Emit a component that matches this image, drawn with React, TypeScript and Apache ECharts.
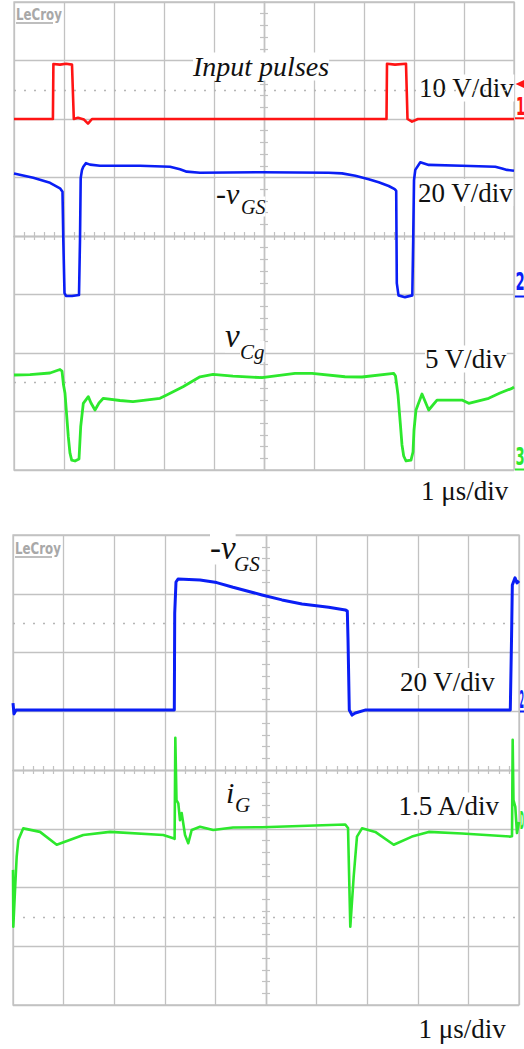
import React, { useEffect, useRef } from "react";
import * as echarts from "echarts";

// ---------- data: [time in µs relative to screen centre, value in channel units] ----------
// Upper screen
const inputPulses: [number, number][] = [
  [-5.0, 0], [-4.68, 0], [-4.222, 0], [-4.212, 9.4], [-4.2, 9.45], [-4.08, 9.3], [-3.96, 9.45],
  [-3.84, 9.3], [-3.826, 9.3], [-3.804, 0], [-3.72, 0.2], [-3.6, -0.1], [-3.52, -0.8], [-3.44, 0],
  [-2.88, 0], [-1.28, 0], [0.5, 0], [2.45, 0], [2.46, 9.45], [2.62, 9.3], [2.84, 9.45],
  [2.85, 9.4], [2.87, 0], [2.96, -0.45], [3.08, 0], [5.0, 0],
];
const gateVoltageTop: [number, number][] = [
  [-5.0, 41.4], [-4.614, 39.9], [-4.28, 38.2], [-4.08, 36.3], [-4.03, 35.1], [-4.014, 18.6],
  [-3.99, 0.5], [-3.96, -0.5], [-3.84, -0.5], [-3.7, -0.2], [-3.68, 18.6], [-3.666, 39.8],
  [-3.64, 42.6], [-3.614, 43.7], [-3.56, 44.9], [-3.48, 44.4], [-3.28, 44.0], [-2.48, 44.0],
  [-1.88, 43.7], [-1.68, 42.8], [-1.546, 42.0], [-1.28, 41.6], [-0.04, 41.8], [1.294, 41.6],
  [1.56, 41.4], [1.826, 40.6], [2.094, 39.4], [2.294, 38.4], [2.494, 37.1], [2.614, 36.0],
  [2.644, 35.4], [2.656, 3.9], [2.69, -0.3], [2.82, -0.9], [2.966, -0.3], [2.984, 18.6],
  [3.0, 39.1], [3.026, 42.6], [3.126, 45.2], [3.294, 44.3], [3.96, 44.0], [4.626, 43.7],
  [4.76, 43.1], [4.86, 42.6], [5.0, 42.3],
];
const capVoltage: [number, number][] = [
  [-5.0, 8.12], [-4.68, 8.16], [-4.28, 8.29], [-4.08, 8.59], [-4.04, 8.46], [-4.01, 7.26],
  [-3.98, 6.56], [-3.914, 2.85], [-3.88, 1.43], [-3.846, 0.85], [-3.78, 0.77], [-3.7, 0.94],
  [-3.666, 3.7], [-3.614, 5.7], [-3.514, 6.27], [-3.46, 5.73], [-3.38, 5.13], [-3.3, 5.73],
  [-3.214, 6.13], [-2.88, 5.94], [-2.62, 5.84], [-2.08, 6.13], [-1.946, 6.41], [-1.62, 7.12],
  [-1.28, 7.97], [-1.02, 8.18], [-0.62, 8.03], [-0.04, 7.89], [0.62, 8.26], [0.96, 8.26],
  [1.62, 7.97], [1.96, 7.95], [2.594, 8.26], [2.63, 8.03], [2.68, 6.41], [2.726, 3.99],
  [2.76, 2.14], [2.794, 1.2], [2.84, 0.77], [2.94, 0.85], [2.98, 1.54], [3.0, 3.42],
  [3.04, 5.13], [3.16, 6.5], [3.294, 5.13], [3.46, 5.98], [3.96, 5.98], [4.094, 5.7],
  [4.494, 6.13], [4.72, 6.58], [4.96, 6.98], [5.0, 7.09],
];
// Lower screen
const gateVoltageBottom: [number, number][] = [
  [-5.0, 2.8], [-4.98, -0.9], [-4.94, 0.4], [-1.812, 0.4], [-1.804, 33.4], [-1.779, 44.0],
  [-1.739, 45.0], [-1.304, 44.7], [-0.974, 43.8], [-0.652, 42.2], [-0.079, 39.6], [0.316, 37.9],
  [0.711, 36.5], [1.239, 35.4], [1.567, 34.5], [1.607, 34.1], [1.621, 24.3], [1.646, 0.4],
  [1.7, -1.3], [1.765, -0.6], [1.957, 0.4], [4.828, 0.4], [4.852, 24.3], [4.868, 43.0],
  [4.921, 45.4], [4.96, 43.7], [5.0, 44.4],
];
const gateCurrent: [number, number][] = [
  [-5.0, -1.05], [-4.994, -2.5], [-4.96, -1.56], [-4.927, -0.71], [-4.895, -0.29], [-4.797, 0.01],
  [-4.466, -0.08], [-4.136, -0.41], [-3.611, -0.16], [-3.083, -0.08], [-2.03, -0.16],
  [-1.832, -0.24], [-1.806, -0.26], [-1.792, 2.32], [-1.769, 0.73], [-1.733, 0.65], [-1.7, 0.22],
  [-1.666, 0.4], [-1.6, -0.16], [-1.536, -0.37], [-1.468, -0.03], [-1.304, 0.05], [-1.042, -0.03],
  [-0.652, 0.03], [-0.079, 0.04], [1.567, 0.11], [1.621, 0.02], [1.666, -2.5], [1.733, -1.22],
  [1.798, -0.2], [1.897, 0.01], [2.16, -0.08], [2.524, -0.41], [2.885, -0.2], [3.215, -0.08],
  [3.874, -0.12], [4.828, -0.2], [4.862, -0.19], [4.875, 2.27], [4.891, 0.73], [4.927, 0.56],
  [4.96, -0.11], [5.0, 0.17],
];

// channel settings: units per division, ground level in divisions from screen centre
const chInput = { scale: 10, offset: 2 };
const chVgsTop = { scale: 20, offset: -1 };
const chVcg = { scale: 5, offset: -4 };
const chVgsBottom = { scale: 20, offset: 1 };
const chIg = { scale: 1.5, offset: -1 };

const timeDivs = { min: -5, max: 5 };
const vertDivs = { min: -4, max: 4 };
const refLevels = [2.5, -2.5];

// ---------- styling ----------
const GRID = "#c2c2c2";
const RED = "#ff1414";
const BLUE = "#0a1ef5";
const GREEN = "#2de82d";
const SERIF = "Liberation Serif";

function trace(data: [number, number][], ch: { scale: number; offset: number }, color: string, width: number, plot: number, withRef: boolean) {
  const s: any = {
    type: "line",
    xAxisIndex: plot * 2,
    yAxisIndex: plot * 2,
    data: data.map(([t, v]) => [t, ch.offset + v / ch.scale]),
    showSymbol: false,
    symbol: "none",
    silent: true,
    z: 3,
    lineStyle: { color, width, join: "round" },
  };
  if (withRef) {
    s.markLine = {
      silent: true,
      z: 1,
      symbol: ["none", "none"],
      label: { show: false },
      lineStyle: { color: "#b5b5b5", type: [2, 8], width: 1.4 },
      data: refLevels.map((v) => ({ yAxis: v })),
    };
  }
  return s;
}

function xAxes(plot: number) {
  const common = {
    gridIndex: plot,
    type: "value",
    min: timeDivs.min,
    max: timeDivs.max,
    interval: 1,
    axisLabel: { show: false },
    axisTick: { show: false },
    minorTick: { show: true, splitNumber: 5, length: 4, lineStyle: { color: GRID, width: 1.2 } },
  };
  return [
    { ...common, position: "bottom", axisLine: { show: true, onZero: true, onZeroAxisIndex: plot * 2, lineStyle: { color: GRID, width: 1.3 } }, splitLine: { show: true, lineStyle: { color: GRID, width: 1.3 } } },
    { ...common, position: "top", axisLine: { show: true, onZero: true, onZeroAxisIndex: plot * 2, lineStyle: { color: GRID, width: 1.3 } }, splitLine: { show: false } },
  ];
}
function yAxes(plot: number) {
  const common = {
    gridIndex: plot,
    type: "value",
    min: vertDivs.min,
    max: vertDivs.max,
    interval: 1,
    axisLabel: { show: false },
    axisTick: { show: false },
    minorTick: { show: true, splitNumber: 5, length: 4, lineStyle: { color: GRID, width: 1.2 } },
  };
  return [
    { ...common, position: "left", axisLine: { show: true, onZero: true, onZeroAxisIndex: plot * 2, lineStyle: { color: GRID, width: 1.3 } }, splitLine: { show: true, lineStyle: { color: GRID, width: 1.3 } } },
    { ...common, position: "right", axisLine: { show: true, onZero: true, onZeroAxisIndex: plot * 2, lineStyle: { color: GRID, width: 1.3 } }, splitLine: { show: false } },
  ];
}

function label(text: string, x: number, y: number, size: number, italic = false, bg = true) {
  return {
    type: "text",
    x,
    y,
    z: 1,
    silent: true,
    style: {
      text,
      fontFamily: SERIF,
      fontSize: size,
      fontStyle: italic ? "italic" : "normal",
      fill: "#111",
      align: "left",
      verticalAlign: "middle",
      backgroundColor: bg ? "#ffffff" : undefined,
    },
  };
}
function marker(text: string, x: number, y: number, color: string, sx = 0.55) {
  return {
    type: "text",
    x,
    y,
    scaleX: sx,
    z: 2,
    silent: true,
    style: { text, fontFamily: "DejaVu Sans", fontWeight: "bold", fontSize: 24, fill: color, align: "left", verticalAlign: "middle" },
  };
}
function bar(x: number, y: number, w: number, h: number, color: string) {
  return { type: "rect", z: 2, silent: true, shape: { x, y, width: w, height: h }, style: { fill: color } };
}
function logo(x: number, y: number) {
  return [
    { type: "text", x, y, scaleX: 0.74, z: 2, silent: true, style: { text: "LeCroy", fontFamily: "DejaVu Sans", fontWeight: "bold", fontSize: 16, fill: "#a8a8a8", align: "left", verticalAlign: "middle" } },
    bar(x, y + 7.7, 37, 1.6, "#a8a8a8"),
  ];
}

export default function App() {
  const ref = useRef<HTMLDivElement>(null);
  useEffect(() => {
    if (!ref.current) return;
    const chart = echarts.init(ref.current, undefined, { renderer: "svg" });
    chart.setOption({
      animation: false,
      backgroundColor: "#ffffff",
      grid: [
        { left: 14, top: 2, width: 500, height: 468, show: true, borderColor: GRID, borderWidth: 1.3, outerBoundsMode: "none", containLabel: false },
        { left: 13, top: 535, width: 506, height: 470, show: true, borderColor: GRID, borderWidth: 1.3, outerBoundsMode: "none", containLabel: false },
      ],
      xAxis: [...xAxes(0), ...xAxes(1)],
      yAxis: [...yAxes(0), ...yAxes(1)],
      series: [
        trace(inputPulses, chInput, RED, 2.6, 0, true),
        trace(gateVoltageTop, chVgsTop, BLUE, 2.6, 0, false),
        trace(capVoltage, chVcg, GREEN, 2.8, 0, false),
        trace(gateVoltageBottom, chVgsBottom, BLUE, 3, 1, true),
        trace(gateCurrent, chIg, GREEN, 2.6, 1, false),
      ],
      graphic: {
        elements: [
          ...logo(16, 14.5),
          ...logo(15, 548.5),
          label("Input pulses", 193, 66.5, 28, true),
          label("10 V/div", 419, 88, 27),
          label("-v", 216, 193, 30, true),
          label("GS", 241, 206.5, 20, true),
          label("20 V/div", 418, 192.5, 27),
          label("v", 225, 336, 33, true),
          label("Cg", 240, 351.5, 21, true),
          label("5 V/div", 425, 359, 27),
          label("1 μs/div", 421, 491, 27, false, false),
          label("-v", 210, 548, 33, true),
          label("GS", 234, 563.5, 21, true),
          label("20 V/div", 400, 681.5, 27),
          label("i", 226, 792, 30, true),
          label("G", 235, 805, 21, true),
          label("1.5 A/div", 398.5, 806, 27),
          label("1 μs/div", 418.5, 1029, 27, false, false),
          { type: "polygon", z: 2, silent: true, shape: { points: [[515.5, 84], [524, 80], [524, 88]] }, style: { fill: RED } },
          marker("1", 516, 106.7, RED),
          bar(515, 117.3, 9, 2, RED),
          marker("2", 515.5, 281.7, BLUE),
          bar(515, 295.5, 9, 2, BLUE),
          marker("3", 515.5, 456.7, GREEN),
          bar(515, 468.5, 9, 2, GREEN),
          marker("2", 519.6, 700, BLUE, 0.27),
          bar(520, 710.5, 4, 2, BLUE),
          marker("D", 520, 820.5, GREEN, 0.2),
        ],
      },
    });
    return () => chart.dispose();
  }, []);
  return <div ref={ref} style={{ position: "absolute", left: 0, top: 0, width: 524, height: 1049 }} />;
}
